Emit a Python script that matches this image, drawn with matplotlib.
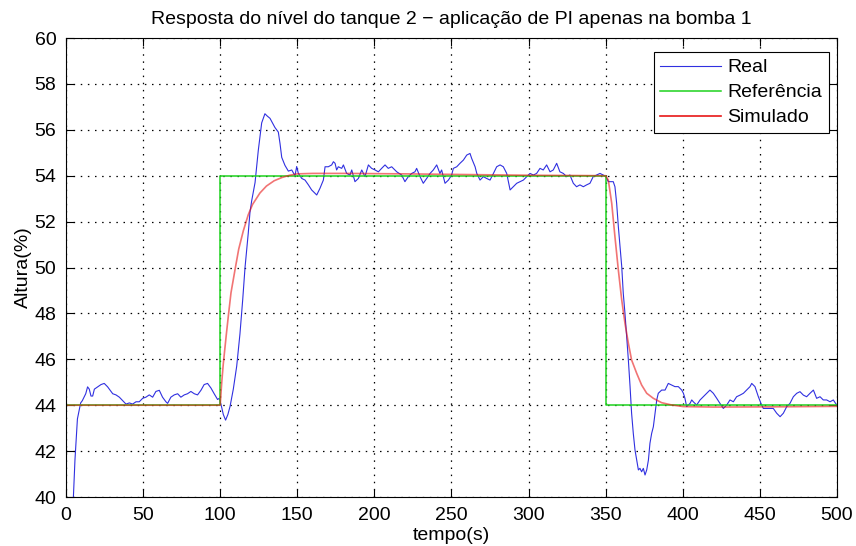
import matplotlib
matplotlib.use("Agg")
import matplotlib.pyplot as plt

real_t = [4.0, 4.8, 5.8, 7.4, 9.5, 10.6, 12.8, 14.0, 15.1, 16.2, 17.3, 18.4, 20.5, 22.7, 24.8,
          27.0, 29.2, 30.3, 32.4, 34.6, 36.8, 38.9, 41.1, 43.2, 45.4, 47.5, 49.7, 51.8, 54.0,
          56.2, 58.3, 60.5, 62.6, 64.8, 65.9, 68.0, 70.2, 72.4, 74.5, 76.7, 78.8, 81.0, 83.2,
          85.3, 87.5, 89.6, 91.8, 94.0, 96.1, 98.3, 99.4, 101.0, 102.0, 103.5, 105.0, 106.4,
          108.5, 110.7, 112.8, 114.6, 116.1, 118.2, 119.3, 120.4, 122.6, 124.7, 126.9, 129.0,
          130.5, 132.3, 135.5, 137.7, 138.8, 139.9, 142.0, 144.2, 146.4, 148.5, 149.6, 150.7,
          152.9, 155.0, 157.2, 159.3, 161.5, 162.6, 164.7, 166.9, 168.0, 170.1, 172.3, 173.4,
          174.5, 175.5, 176.6, 178.8, 179.9, 182.0, 184.2, 185.3, 187.4, 189.6, 191.8, 193.9,
          196.1, 198.2, 200.4, 202.6, 204.7, 206.9, 209.0, 211.2, 214.5, 217.7, 219.8, 222.0,
          224.2, 226.3, 227.4, 229.6, 231.7, 233.9, 236.1, 238.2, 240.4, 242.5, 243.6, 245.8,
          248.0, 250.1, 251.2, 253.4, 255.5, 257.7, 259.9, 262.0, 263.1, 265.3, 266.4, 268.5,
          270.7, 272.8, 275.0, 277.2, 279.3, 281.5, 283.6, 285.8, 288.0, 290.1, 292.3, 294.4,
          296.6, 298.8, 300.9, 303.1, 305.2, 307.4, 309.5, 311.7, 313.9, 316.0, 318.2, 320.3,
          322.5, 324.7, 326.8, 329.0, 331.1, 333.3, 335.5, 337.6, 339.8, 341.9, 344.1, 346.3,
          348.4, 350.1, 351.7, 354.9, 356.0, 357.1, 358.2, 359.3, 360.4, 361.4, 362.5, 363.6,
          364.7, 365.8, 366.8, 367.9, 369.0, 370.1, 371.2, 372.2, 373.3, 374.4, 375.5, 376.6,
          377.7, 378.7, 379.8, 380.9, 382.0, 383.1, 384.1, 386.3, 388.5, 390.6, 392.8, 394.9,
          397.1, 399.3, 400.4, 401.4, 402.5, 403.6, 404.7, 405.8, 406.8, 409.0, 411.2, 413.3,
          415.5, 417.6, 419.8, 422.0, 424.1, 426.3, 428.5, 430.6, 432.8, 434.9, 437.1, 439.3,
          441.4, 443.6, 444.7, 446.8, 449.0, 450.7, 452.2, 454.4, 456.6, 458.7, 460.9, 463.1,
          465.2, 467.4, 469.5, 471.7, 473.9, 476.0, 478.2, 480.3, 482.5, 484.7, 486.8, 489.0,
          491.1, 493.3, 495.5, 497.6, 499.8]
real_y = [39.0, 40.0, 41.6, 43.4, 44.1, 44.2, 44.5, 44.8, 44.7, 44.4, 44.4, 44.7, 44.8, 44.9, 44.95,
          44.8, 44.6, 44.5, 44.45, 44.35, 44.2, 44.05, 44.1, 44.05, 44.15, 44.15, 44.3, 44.35, 44.45,
          44.35, 44.6, 44.65, 44.35, 44.15, 44.08, 44.35, 44.45, 44.5, 44.35, 44.45, 44.5, 44.6, 44.5,
          44.45, 44.65, 44.9, 44.95, 44.75, 44.5, 44.25, 44.3, 43.9, 43.6, 43.35, 43.6, 43.95,
          44.7, 45.7, 47.1, 48.6, 50.0, 51.5, 52.4, 52.9, 53.7, 55.1, 56.3, 56.7,
          56.6, 56.5, 56.1, 55.9, 55.4, 54.8, 54.45, 54.2, 54.25, 54.0, 54.4, 54.1,
          53.88, 53.81, 53.6, 53.38, 53.23, 53.16, 53.45, 53.81, 54.39, 54.39, 54.47, 54.61,
          54.54, 54.25, 54.39, 54.32, 54.47, 54.1, 54.03, 54.25, 53.74, 53.88, 54.25, 53.96,
          54.47, 54.32, 54.25, 54.17, 54.32, 54.47, 54.32, 54.39, 54.17, 54.03, 53.74, 53.96,
          54.1, 54.17, 54.32, 53.96, 53.67, 53.88, 54.1, 54.25, 54.47, 54.1, 54.25, 53.67,
          53.81, 54.03, 54.32, 54.39, 54.54, 54.68, 54.9, 54.97, 54.75, 54.39, 54.1, 53.81,
          53.96, 53.88, 53.81, 54.1, 54.39, 54.47, 54.39, 54.1, 53.38, 53.52, 53.67, 53.74,
          53.81, 53.96, 54.1, 54.03, 54.1, 54.32, 54.25, 54.47, 54.17, 54.25, 54.54, 54.17,
          54.1, 53.96, 54.03, 53.67, 53.52, 53.6, 53.52, 53.6, 53.67, 53.96, 54.03, 54.1,
          54.03, 53.96, 53.74, 53.74, 53.52, 52.8, 51.78, 50.91, 50.04, 48.87, 48.0, 46.99,
          45.97, 44.81, 43.65, 42.77, 42.05, 41.61, 41.18, 41.25, 41.1, 41.25, 40.96, 41.18,
          41.61, 42.34, 42.77, 43.06, 43.65, 44.23, 44.52, 44.66, 44.66, 44.95, 44.88, 44.81,
          44.81, 44.66, 44.52, 44.3, 43.94, 44.01, 44.08, 44.23, 44.15, 44.01, 44.23, 44.37,
          44.52, 44.66, 44.52, 44.3, 44.08, 43.86, 44.01, 44.23, 44.15, 44.37, 44.44, 44.52,
          44.66, 44.81, 44.95, 44.81, 44.37, 44.08, 43.86, 43.86, 43.86, 43.86, 43.65, 43.5,
          43.65, 43.94, 44.08, 44.37, 44.52, 44.59, 44.44, 44.37, 44.52, 44.66, 44.3, 44.37,
          44.23, 44.23, 44.15, 44.23, 44.01]

ref_t = [0, 100, 100, 350, 350, 500]
ref_y = [44, 44, 54, 54, 44, 44]

sim_t = [0, 100, 101, 102, 104, 105.3, 107, 109.6, 112, 115, 118.2, 121, 125.8, 130, 135, 140,
         145, 150, 160, 180, 220, 260, 300, 350, 351.7, 353.9, 356.0, 358.2, 360.4, 362.5,
         364.7, 366.8, 370.1, 373.3, 376.6, 380.9, 386.3, 392.8, 400.4, 420, 460, 500]
sim_y = [44, 44, 45.0, 45.8, 47.1, 47.9, 48.9, 49.9, 50.8, 51.6, 52.3, 52.75, 53.25, 53.55, 53.78, 53.92,
         54.02, 54.08, 54.1, 54.1, 54.08, 54.05, 54.02, 54.0, 53.81, 52.8, 51.34, 49.89, 48.58, 47.57,
         46.7, 45.97, 45.39, 44.88, 44.52, 44.3, 44.11, 44.01, 43.94, 43.92, 43.93, 43.95]

plt.rcParams["font.family"] = ["Liberation Sans", "DejaVu Sans"]
fs = 14

fig = plt.figure(figsize=(8.56, 5.46), dpi=100)
ax = fig.add_axes([0.0771, 0.0897, 0.9007, 0.8407])

ax.plot(real_t, real_y, color="#3030e0", lw=0.8, label="Real")
ax.plot(ref_t, ref_y, color="#1ed21e", lw=1.1, label="Referência")
ax.plot(sim_t, sim_y, color="#e81818", lw=1.2, alpha=0.6, label="Simulado")

ax.set_xlim(0, 500)
ax.set_ylim(40, 60)
ax.set_xticks(range(0, 501, 50))
ax.set_yticks(range(40, 61, 2))
ax.grid(True, color="black", linestyle=(0, (1.2, 4.5)), linewidth=0.9)
ax.tick_params(direction="in", length=6, width=0.8, top=True, right=True,
               labelsize=fs, pad=7)
for s in ax.spines.values():
    s.set_linewidth(0.8)

ax.set_title("Resposta do nível do tanque 2 − aplicação de PI apenas na bomba 1",
             fontsize=fs, pad=10)
ax.set_xlabel("tempo(s)", fontsize=fs, labelpad=2)
ax.set_ylabel("Altura(%)", fontsize=fs, labelpad=2)

leg = ax.legend(loc="upper right", bbox_to_anchor=(0.9896, 0.9695), borderaxespad=0,
                fontsize=fs, fancybox=False, framealpha=1, edgecolor="black",
                handlelength=3.1, handletextpad=0.35, labelspacing=0.38, borderpad=0.35)
leg.get_frame().set_linewidth(0.8)
for h in leg.get_lines():
    h.set_alpha(1)

fig.savefig("out.png", dpi=100)
